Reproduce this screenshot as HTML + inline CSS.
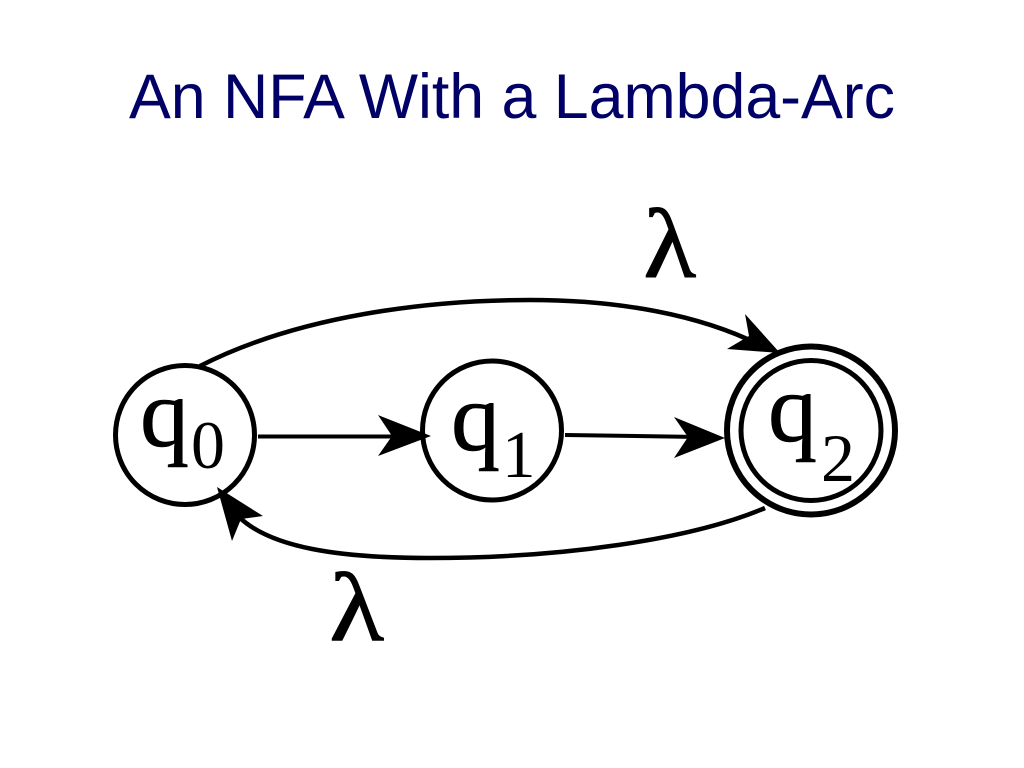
<!DOCTYPE html>
<html>
<head>
<meta charset="utf-8">
<style>
html,body{margin:0;padding:0;background:#fff;width:1024px;height:768px;overflow:hidden}
svg{display:block}
</style>
</head>
<body>
<svg width="1024" height="768" viewBox="0 0 1024 768" xmlns="http://www.w3.org/2000/svg">
<rect width="1024" height="768" fill="#fff"/>
<text x="512" y="118" text-anchor="middle" font-family="Liberation Sans, sans-serif" font-size="63" fill="#000066" textLength="766" lengthAdjust="spacingAndGlyphs">An NFA With a Lambda-Arc</text>

<g fill="none" stroke="#000">
<circle cx="185" cy="435" r="69.5" stroke-width="5"/>
<circle cx="492" cy="430.5" r="69.5" stroke-width="5"/>
<circle cx="811" cy="430.5" r="84" stroke-width="6"/>
<circle cx="811" cy="430.5" r="70" stroke-width="5"/>
<path d="M200 366 C 300 315, 430 300, 530 300 C 620 300, 700 315, 760 345" stroke-width="4.5"/>
<path d="M258 436.5 L 400 436.5" stroke-width="4"/>
<path d="M565 435 L 700 437" stroke-width="4"/>
<path d="M765 508 C 690 540, 560 558, 430 558 C 340 558, 270 548, 238 516" stroke-width="4.5"/>
</g>

<g fill="#000">
<path d="M431 436 L 378 415 L 392 436 L 378 456 Z"/>
<path d="M725 438 L 674 417 L 688 437 L 674 458 Z"/>
<path d="M780 353 L 745 314 L 749 336 L 727 349 Z"/>
<path d="M217 487 L 232 541 L 241 519 L 263 516 Z"/>
</g>

<g font-family="Liberation Serif, serif" fill="#000">
<text x="140" y="446" font-size="98" stroke="#000" stroke-width="0.6">q</text>
<text x="191" y="468" font-size="68">0</text>
<text x="451" y="450" font-size="98" stroke="#000" stroke-width="0.6">q</text>
<text x="502" y="477" font-size="67">1</text>
<text x="768" y="441" font-size="98" stroke="#000" stroke-width="0.6">q</text>
<text x="821" y="481" font-size="68">2</text>
<text transform="translate(643.4,277) scale(1.11,1)" font-size="98" stroke="#000" stroke-width="1">λ</text>
<text transform="translate(329.4,640) scale(1.15,1)" font-size="98" stroke="#000" stroke-width="1">λ</text>
</g>
</svg>
</body>
</html>
